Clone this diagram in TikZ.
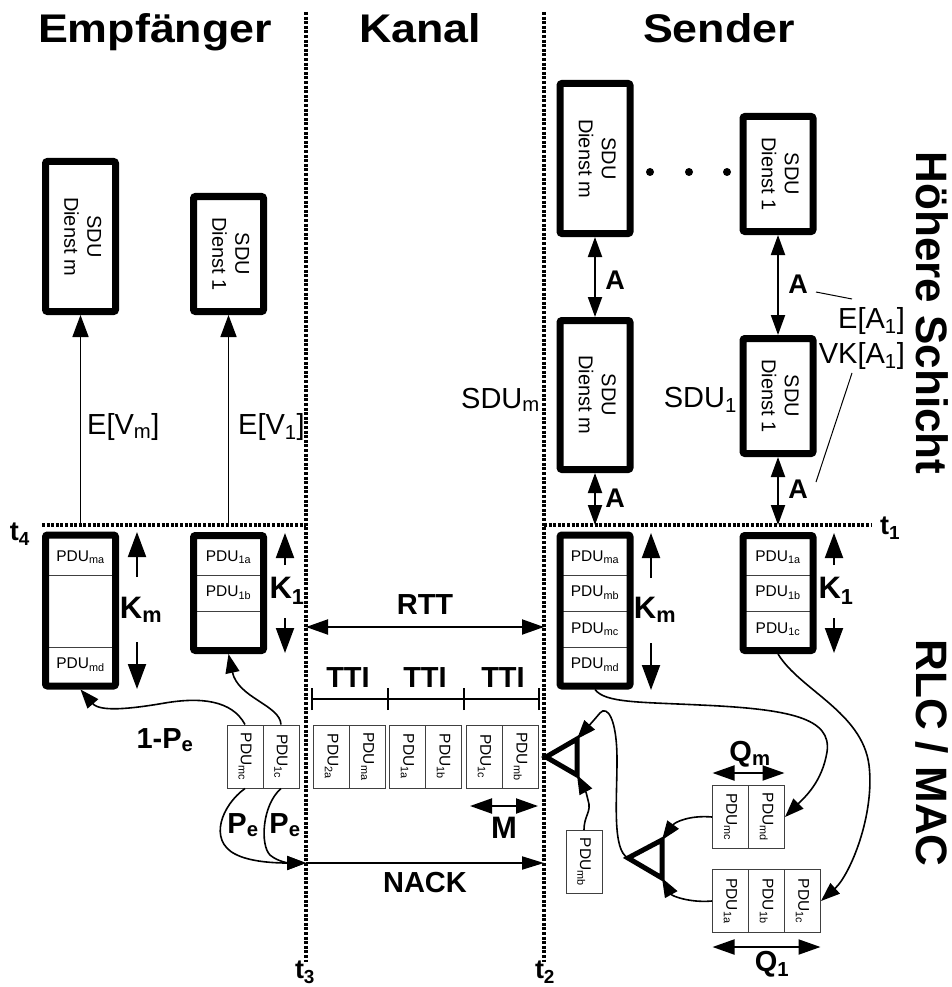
\documentclass[tikz,border=0pt]{standalone}
\usepackage{fontspec}
\usepackage{graphicx}
\setmainfont{Liberation Sans}
\usetikzlibrary{arrows.meta}
\newcommand{\myfs}[1]{\fontsize{#1}{#1}\selectfont}
\newcommand{\sdutext}[1]{\rotatebox{-90}{\fontsize{20}{23}\selectfont\begin{tabular}{@{}c@{}}SDU\\Dienst #1\end{tabular}}}
\newcommand{\pdurot}[1]{\rotatebox{-90}{PDU\textsubscript{#1}}}
\begin{document}
\begin{tikzpicture}[x=1pt,y=-1pt,
  dotl/.style={line width=3.2pt, dash pattern=on 3pt off 1.6pt},
  sdubox/.style={draw, line width=7pt, rounded corners=2pt, minimum width=70pt, inner sep=0pt},
  cell/.style={draw=black!75, line width=1pt, minimum width=36pt, minimum height=63pt, inner sep=0pt, font=\myfs{15.5}},
  divl/.style={line width=1pt, draw=black!75},
  ptxt/.style={inner sep=0pt, font=\myfs{15.5}},
  lbl/.style={inner sep=0pt, font=\bfseries\myfs{29}},
  klbl/.style={inner sep=0pt, font=\bfseries\myfs{31}},
  albl/.style={inner sep=0pt, font=\bfseries\myfs{27}},
  tlbl/.style={inner sep=0pt, font=\bfseries\myfs{27}},
  txt/.style={inner sep=0pt, font=\myfs{29}},
  ttl/.style={inner sep=0pt, font=\bfseries\myfs{40}, anchor=base},
  side/.style={inner sep=0pt, font=\bfseries\myfs{44}, rotate=-90},
  upa/.style={line width=1.6pt, -{Triangle[length=22pt,width=16pt]}},
  karr/.style={line width=2pt, -{Triangle[length=25pt,width=18pt]}},
  darr/.style={line width=2pt, arrows={Triangle[length=22pt,width=15pt]-Triangle[length=22pt,width=15pt]}},
  aarr/.style={line width=2pt, arrows={Triangle[length=20pt,width=14pt]-Triangle[length=20pt,width=14pt]}},
  narr/.style={line width=2pt, -{Triangle[length=22pt,width=13pt]}},
  carr/.style={line width=1.6pt, -{Triangle[length=19pt,width=14pt]}},
  tri/.style={line width=5pt, line join=miter},
]
\useasboundingbox (0,0) rectangle (952,987);

% ---- dotted time lines
\coordinate (vLt) at (306,12);  \coordinate (vLb) at (306,962);
\coordinate (vRt) at (544,12);  \coordinate (vRb) at (544,962);
\coordinate (hLl) at (42,525);  \coordinate (hLr) at (306,525);
\coordinate (hRl) at (544,525); \coordinate (hRr) at (872,525);
\draw[dotl] (vLt) -- (vLb);
\draw[dotl] (vRt) -- (vRb);
\draw[dotl] (hLl) -- (hLr);
\draw[dotl] (hRl) -- (hRr);

% ---- titles
\node[ttl] (tE) at (155,43) {\scalebox{1.12}[1]{Empfänger}};
\node[ttl] (tK) at (420,43) {\scalebox{1.12}[1]{Kanal}};
\node[ttl] (tS) at (719,43) {\scalebox{1.12}[1]{Sender}};
\node[side] (hs) at (932,313) {Höhere Schicht};
\node[side] (rm) at (932,753) {RLC / MAC};

% ---- time labels
\node[tlbl] (t4) at (20,534) {t\textsubscript{4}};
\node[tlbl] (t1) at (890,528) {t\textsubscript{1}};
\node[tlbl] (t3) at (305,972) {t\textsubscript{3}};
\node[tlbl] (t2) at (545,972) {t\textsubscript{2}};

% ---- receiver SDU boxes
\node[sdubox, minimum height=150pt] (rsm) at (80.5,236.5) {\sdutext{m}};
\node[sdubox, minimum height=115pt] (rs1) at (228.5,254) {\sdutext{1}};
\coordinate (ev1) at (80.5,525);
\coordinate (ev2) at (228.5,525);
\draw[upa] (ev1) -- (rsm.south);
\draw[upa] (ev2) -- (rs1.south);
\node[txt, anchor=west] (evm) at (87,427) {E[V\textsubscript{m}]};
\node[txt, anchor=west] (ev1l) at (238,427) {E[V\textsubscript{1}]};

% ---- receiver buffers
\draw[divl] (46,575) -- (115,575);
\draw[divl] (46,647) -- (115,647);
\node[sdubox, minimum height=151pt] (rbm) at (80.5,610.5) {};
\node[ptxt] (rbma) at (80.5,557) {PDU\textsubscript{ma}};
\node[ptxt] (rbmd) at (80.5,665) {PDU\textsubscript{md}};
\draw[divl] (194,575) -- (263,575);
\draw[divl] (194,611) -- (263,611);
\node[sdubox, minimum height=115pt] (rb1) at (228.5,593) {};
\node[ptxt] (rb1a) at (228.5,557) {PDU\textsubscript{1a}};
\node[ptxt] (rb1b) at (228.5,593) {PDU\textsubscript{1b}};

\coordinate (k1u) at (137,577); \coordinate (k1ut) at (137,532);
\coordinate (k1d) at (137,642); \coordinate (k1dt) at (137,689);
\draw[karr] (k1u) -- (k1ut);
\draw[karr] (k1d) -- (k1dt);
\node[klbl] (kml) at (141,610) {K\textsubscript{m}};
\coordinate (k2u) at (285,565); \coordinate (k2ut) at (285,533);
\coordinate (k2d) at (285,618); \coordinate (k2dt) at (285,653);
\draw[karr] (k2u) -- (k2ut);
\draw[karr] (k2d) -- (k2dt);
\node[klbl] (k1l) at (287,591) {K\textsubscript{1}};

% ---- receiver PDUs
\node[cell] (rmc) at (245,756.5) {\pdurot{mc}};
\node[cell] (r1c) at (281,756.5) {\pdurot{1c}};
\node[lbl] (ope) at (165,740) {1-P\textsubscript{e}};
\node[lbl] (pe1) at (243,825) {P\textsubscript{e}};
\node[lbl] (pe2) at (285,825) {P\textsubscript{e}};

\coordinate (nackL) at (306,863);
\coordinate (nackR) at (544,863);
\draw[carr] (rmc.north) .. controls (232,700) and (200,697) .. (165,703) .. controls (130,709) and (100,712) .. (rbm.south);
\draw[carr] (r1c.north) .. controls (280,705) and (238,698) .. (rb1.south);
\draw[carr] (rmc.south) .. controls (222,805) and (208,840) .. (235,854) .. controls (250,862) and (275,863) .. (nackL);
\draw[carr] (r1c.south) .. controls (262,805) and (260,845) .. (270,855) .. controls (278,862) and (290,863) .. (nackL);
\draw[narr] (nackL) -- (nackR);
\node[lbl] (nack) at (425,883) {NACK};

% ---- channel
\coordinate (rttL) at (306,627);
\coordinate (rttR) at (544,627);
\draw[darr] (rttL) -- (rttR);
\node[lbl] (rtt) at (425,605) {RTT};
\coordinate (tti0) at (312,699); \coordinate (tti1) at (388,699);
\coordinate (tti2) at (464,699); \coordinate (tti3) at (539,699);
\draw[line width=2pt] (tti0) -- (tti3);
\foreach \c in {tti0,tti1,tti2,tti3} \draw[line width=2pt] ([yshift=-11pt]\c) -- ([yshift=11pt]\c);
\node[lbl] (ttia) at (348,678) {TTI};
\node[lbl] (ttib) at (425,678) {TTI};
\node[lbl] (ttic) at (503,678) {TTI};
\node[cell] (ka1) at (331.5,756.5) {\pdurot{2a}};
\node[cell] (ka2) at (367.5,756.5) {\pdurot{ma}};
\node[cell] (kb1) at (407.5,756.5) {\pdurot{1a}};
\node[cell] (kb2) at (443.5,756.5) {\pdurot{1b}};
\node[cell] (kc1) at (484.5,756.5) {\pdurot{1c}};
\node[cell] (kc2) at (520.5,756.5) {\pdurot{mb}};
\coordinate (mL) at (470,806); \coordinate (mR) at (538,806);
\draw[darr] (mL) -- (mR);
\node[klbl] (mlab) at (504,828) {M};

% ---- sender SDU boxes
\node[sdubox, minimum height=150pt] (ssm) at (595,158.5) {\sdutext{m}};
\node[sdubox, minimum height=115pt] (ss1) at (778,174) {\sdutext{1}};
\fill (650,172) circle[radius=4pt] (689,172) circle[radius=4pt] (727,172) circle[radius=4pt];
\node[sdubox, minimum height=149pt] (ssm2) at (595,395) {\sdutext{m}};
\node[sdubox, minimum height=115pt] (ss12) at (778,396) {\sdutext{1}};
\draw[aarr] (ssm.south) -- (ssm2.north);
\draw[aarr] (ss1.south) -- (ss12.north);
\coordinate (am) at (595,525);
\coordinate (a1) at (778,525);
\draw[aarr] (ssm2.south) -- (am);
\draw[aarr] (ss12.south) -- (a1);
\node[albl] (a1l) at (615,280) {A};
\node[albl] (a2l) at (798,284) {A};
\node[albl] (a3l) at (615,498) {A};
\node[albl] (a4l) at (798,489) {A};
\node[txt, anchor=east] (sdum) at (540,400) {SDU\textsubscript{m}};
\node[txt, anchor=east] (sdu1) at (737,400) {SDU\textsubscript{1}};
\node[txt, anchor=east] (ea) at (905,321) {E[A\textsubscript{1}]};
\node[txt, anchor=east] (vka) at (905,356) {VK[A\textsubscript{1}]};
\coordinate (ld1a) at (816,292); \coordinate (ld1b) at (852,299);
\coordinate (ld2a) at (852,373); \coordinate (ld2b) at (816,482);
\draw[line width=1pt] (ld1a) -- (ld1b);
\draw[line width=1pt] (ld2a) -- (ld2b);

% ---- sender buffers
\draw[divl] (561,575) -- (630,575);
\draw[divl] (561,611) -- (630,611);
\draw[divl] (561,647) -- (630,647);
\node[sdubox, minimum height=151pt] (sbm) at (595,610.5) {};
\node[ptxt] (sbma) at (595,557) {PDU\textsubscript{ma}};
\node[ptxt] (sbmb) at (595,593) {PDU\textsubscript{mb}};
\node[ptxt] (sbmc) at (595,629) {PDU\textsubscript{mc}};
\node[ptxt] (sbmd) at (595,665) {PDU\textsubscript{md}};
\draw[divl] (744,575) -- (813,575);
\draw[divl] (744,611) -- (813,611);
\node[sdubox, minimum height=115pt] (sb1) at (778,593) {};
\node[ptxt] (sb1a) at (778,557) {PDU\textsubscript{1a}};
\node[ptxt] (sb1b) at (778,593) {PDU\textsubscript{1b}};
\node[ptxt] (sb1c) at (778,629) {PDU\textsubscript{1c}};

\coordinate (k3u) at (651,578); \coordinate (k3ut) at (651,533);
\coordinate (k3d) at (651,643); \coordinate (k3dt) at (651,690);
\draw[karr] (k3u) -- (k3ut);
\draw[karr] (k3d) -- (k3dt);
\node[klbl] (kms) at (655,610) {K\textsubscript{m}};
\coordinate (k4u) at (834,565); \coordinate (k4ut) at (834,533);
\coordinate (k4d) at (834,618); \coordinate (k4dt) at (834,653);
\draw[karr] (k4u) -- (k4ut);
\draw[karr] (k4d) -- (k4dt);
\node[klbl] (k1s) at (836,591) {K\textsubscript{1}};

% ---- scheduler
\coordinate (t1l) at (546,757); \coordinate (t1t) at (577,739); \coordinate (t1b) at (577,775);
\draw[tri] (t1l) -- (t1t) -- (t1b) -- cycle;
\coordinate (t2l) at (628,858); \coordinate (t2t) at (662,840); \coordinate (t2b) at (662,878);
\draw[tri] (t2l) -- (t2t) -- (t2b) -- cycle;

\node[cell] (pmb) at (584,862) {\pdurot{mb}};
\node[cell] (qmc) at (730.5,817) {\pdurot{mc}};
\node[cell] (qmd) at (766.5,817) {\pdurot{md}};
\node[cell] (q1a) at (730.5,901) {\pdurot{1a}};
\node[cell] (q1b) at (766.5,901) {\pdurot{1b}};
\node[cell] (q1c) at (802.5,901) {\pdurot{1c}};
\coordinate (qmL) at (712.5,773); \coordinate (qmR) at (784.5,773);
\draw[darr] (qmL) -- (qmR);
\node[lbl] (qml) at (750,754) {Q\textsubscript{m}};
\coordinate (q1L) at (712.5,947); \coordinate (q1R) at (820.5,947);
\draw[darr] (q1L) -- (q1R);
\node[lbl] (q1l) at (772,964) {Q\textsubscript{1}};

\draw[carr] (pmb.north) .. controls (584,815) and (592,812) .. (588,800) .. controls (586,792) .. (t1b);
\draw[carr] (t2l) .. controls (612,850) and (617,800) .. (617,760) .. controls (617,718) and (607,705) .. (600,713) .. controls (594,720) .. (t1t);
\draw[carr] (sbm.south) .. controls (605,703) and (640,702) .. (700,705) .. controls (790,709) and (832,718) .. (827,752) .. controls (822,782) and (805,797) .. (qmd.east);
\draw[carr] (sb1.south) .. controls (800,690) and (862,712) .. (869,765) .. controls (875,815) and (850,875) .. (q1c.east);
\draw[carr] (qmc.west) .. controls (690,815) and (675,822) .. (t2t);
\draw[carr] (q1a.west) .. controls (690,903) and (672,896) .. (t2b);
\end{tikzpicture}
\end{document}
